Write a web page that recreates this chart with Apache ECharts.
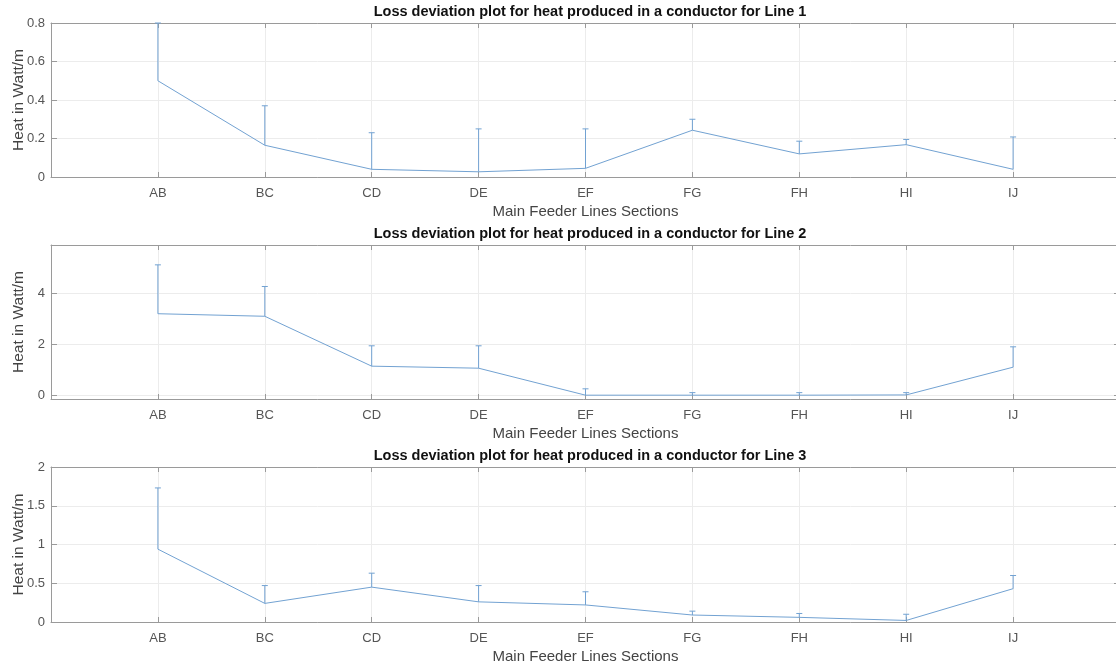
<!DOCTYPE html>
<html><head><meta charset="utf-8">
<script src="https://cdn.jsdelivr.net/npm/echarts@6/dist/echarts.min.js"></script>
<style>html,body{margin:0;padding:0;background:#fff}#c{width:1116px;height:667px}</style>
</head><body><div id="c"></div>
<script>
const sections = ['AB','BC','CD','DE','EF','FG','FH','HI','IJ'];
const titles = [
  'Loss deviation plot for heat produced in a conductor for Line 1',
  'Loss deviation plot for heat produced in a conductor for Line 2',
  'Loss deviation plot for heat produced in a conductor for Line 3'
];
const line1 = [0.50, 0.165, 0.04, 0.027, 0.045, 0.243, 0.12, 0.168, 0.04];
const line1Upper = [0.80, 0.37, 0.23, 0.25, 0.25, 0.30, 0.186, 0.195, 0.208];
const line2 = [3.2, 3.1, 1.14, 1.06, 0.0, 0.0, 0.0, 0.01, 1.1];
const line2Upper = [5.12, 4.27, 1.94, 1.94, 0.25, 0.1, 0.1, 0.1, 1.9];
const line3 = [0.94, 0.24, 0.45, 0.26, 0.22, 0.09, 0.06, 0.02, 0.43];
const line3Upper = [1.73, 0.47, 0.63, 0.47, 0.39, 0.14, 0.11, 0.1, 0.6];
const yTicks1 = [0, 0.2, 0.4, 0.6, 0.8];
const yTicks2 = [0, 2, 4];
const yTicks3 = [0, 0.5, 1, 1.5, 2];
const xName = 'Main Feeder Lines Sections';
const yName = 'Heat in Watt/m';

const FONT = 'Liberation Sans';
const LINE = '#72a2d2';
const BOX = '#9a9a9a';
const GRIDC = '#ececec';
const TXT = '#555';

const panels = [
  {vals: line1, up: line1Upper, ticks: yTicks1, min: 0, max: 0.8, top: 23, height: 154},
  {vals: line2, up: line2Upper, ticks: yTicks2, min: -0.15, max: 5.9, top: 245, height: 154},
  {vals: line3, up: line3Upper, ticks: yTicks3, min: 0, max: 2, top: 467, height: 155}
];

const grid = [], xAxis = [], yAxis = [], series = [], title = [];
panels.forEach((p, k) => {
  grid.push({left: 51, top: p.top, width: 1069, height: p.height, outerBoundsMode: 'none', containLabel: false});
  title.push({text: titles[k], left: 585, top: p.top - 24, textAlign: 'center',
    textStyle: {fontFamily: FONT, fontSize: 14.5, fontWeight: 'bold', color: '#111'}});
  xAxis.push({type: 'value', gridIndex: k, min: 0, max: 10, interval: 1,
    name: xName, nameLocation: 'middle', nameGap: 27, nameMoveOverlap: false,
    nameTextStyle: {fontFamily: FONT, fontSize: 15, color: '#444'},
    axisLine: {show: true, onZero: false, lineStyle: {color: BOX, width: 1}},
    axisTick: {show: true, inside: true, length: 5, lineStyle: {color: BOX}},
    axisLabel: {margin: 10, fontFamily: FONT, fontSize: 13, color: TXT,
      formatter: v => (v >= 1 && v <= sections.length) ? sections[v - 1] : ''},
    splitLine: {show: true, lineStyle: {color: GRIDC, width: 1}}});
  xAxis.push({type: 'value', gridIndex: k, min: 0, max: 10, interval: 1, position: 'top',
    axisLine: {show: true, onZero: false, lineStyle: {color: BOX, width: 1}},
    axisTick: {show: true, inside: true, length: 5, lineStyle: {color: BOX}},
    axisLabel: {show: false}, splitLine: {show: false}});
  const yl = {type: 'value', gridIndex: k, min: p.min, max: p.max,
    axisLine: {show: true, onZero: false, lineStyle: {color: BOX, width: 1}},
    axisTick: {show: true, inside: true, length: 6, lineStyle: {color: BOX}, customValues: p.ticks},
    axisLabel: {margin: 6, fontFamily: FONT, fontSize: 13, color: TXT, customValues: p.ticks},
    splitLine: {show: true, lineStyle: {color: GRIDC, width: 1}}};
  if (p.min === 0) { yl.interval = p.ticks[1] - p.ticks[0]; delete yl.axisTick.customValues; delete yl.axisLabel.customValues; }
  yl.name = yName; yl.nameLocation = 'middle'; yl.nameGap = 24; yl.nameMoveOverlap = false;
  yl.nameTextStyle = {fontFamily: FONT, fontSize: 15.5, color: '#444'};
  yAxis.push(yl);
  const yr = {type: 'value', gridIndex: k, min: p.min, max: p.max, position: 'right',
    axisLine: {show: true, onZero: false, lineStyle: {color: BOX, width: 1}},
    axisTick: {show: true, inside: true, length: 6, lineStyle: {color: BOX}, customValues: p.ticks},
    axisLabel: {show: false}, splitLine: {show: false}};
  if (p.min === 0) { yr.interval = p.ticks[1] - p.ticks[0]; delete yr.axisTick.customValues; }
  yAxis.push(yr);

  const xi = 2 * k, yi = 2 * k;
  series.push({type: 'line', xAxisIndex: xi, yAxisIndex: yi, showSymbol: false, animation: false,
    lineStyle: {color: LINE, width: 1}, silent: true,
    data: p.vals.map((v, i) => [i + 1, v])});
  series.push({type: 'custom', xAxisIndex: xi, yAxisIndex: yi, animation: false, silent: true,
    data: p.vals.map((v, i) => [i + 1, v, p.up[i]]),
    renderItem: (params, api) => {
      const a = api.coord([api.value(0), api.value(1)]);
      const b = api.coord([api.value(0), api.value(2)]);
      const st = {stroke: LINE, lineWidth: 1};
      return {type: 'group', children: [
        {type: 'line', shape: {x1: a[0], y1: a[1], x2: b[0], y2: b[1]}, style: st},
        {type: 'line', shape: {x1: b[0] - 3, y1: b[1], x2: b[0] + 3, y2: b[1]}, style: st}
      ]};
    }});
});

const chart = echarts.init(document.getElementById('c'), null, {renderer: 'canvas'});
chart.setOption({animation: false, backgroundColor: '#fff', title, grid, xAxis, yAxis, series});
</script></body></html>
